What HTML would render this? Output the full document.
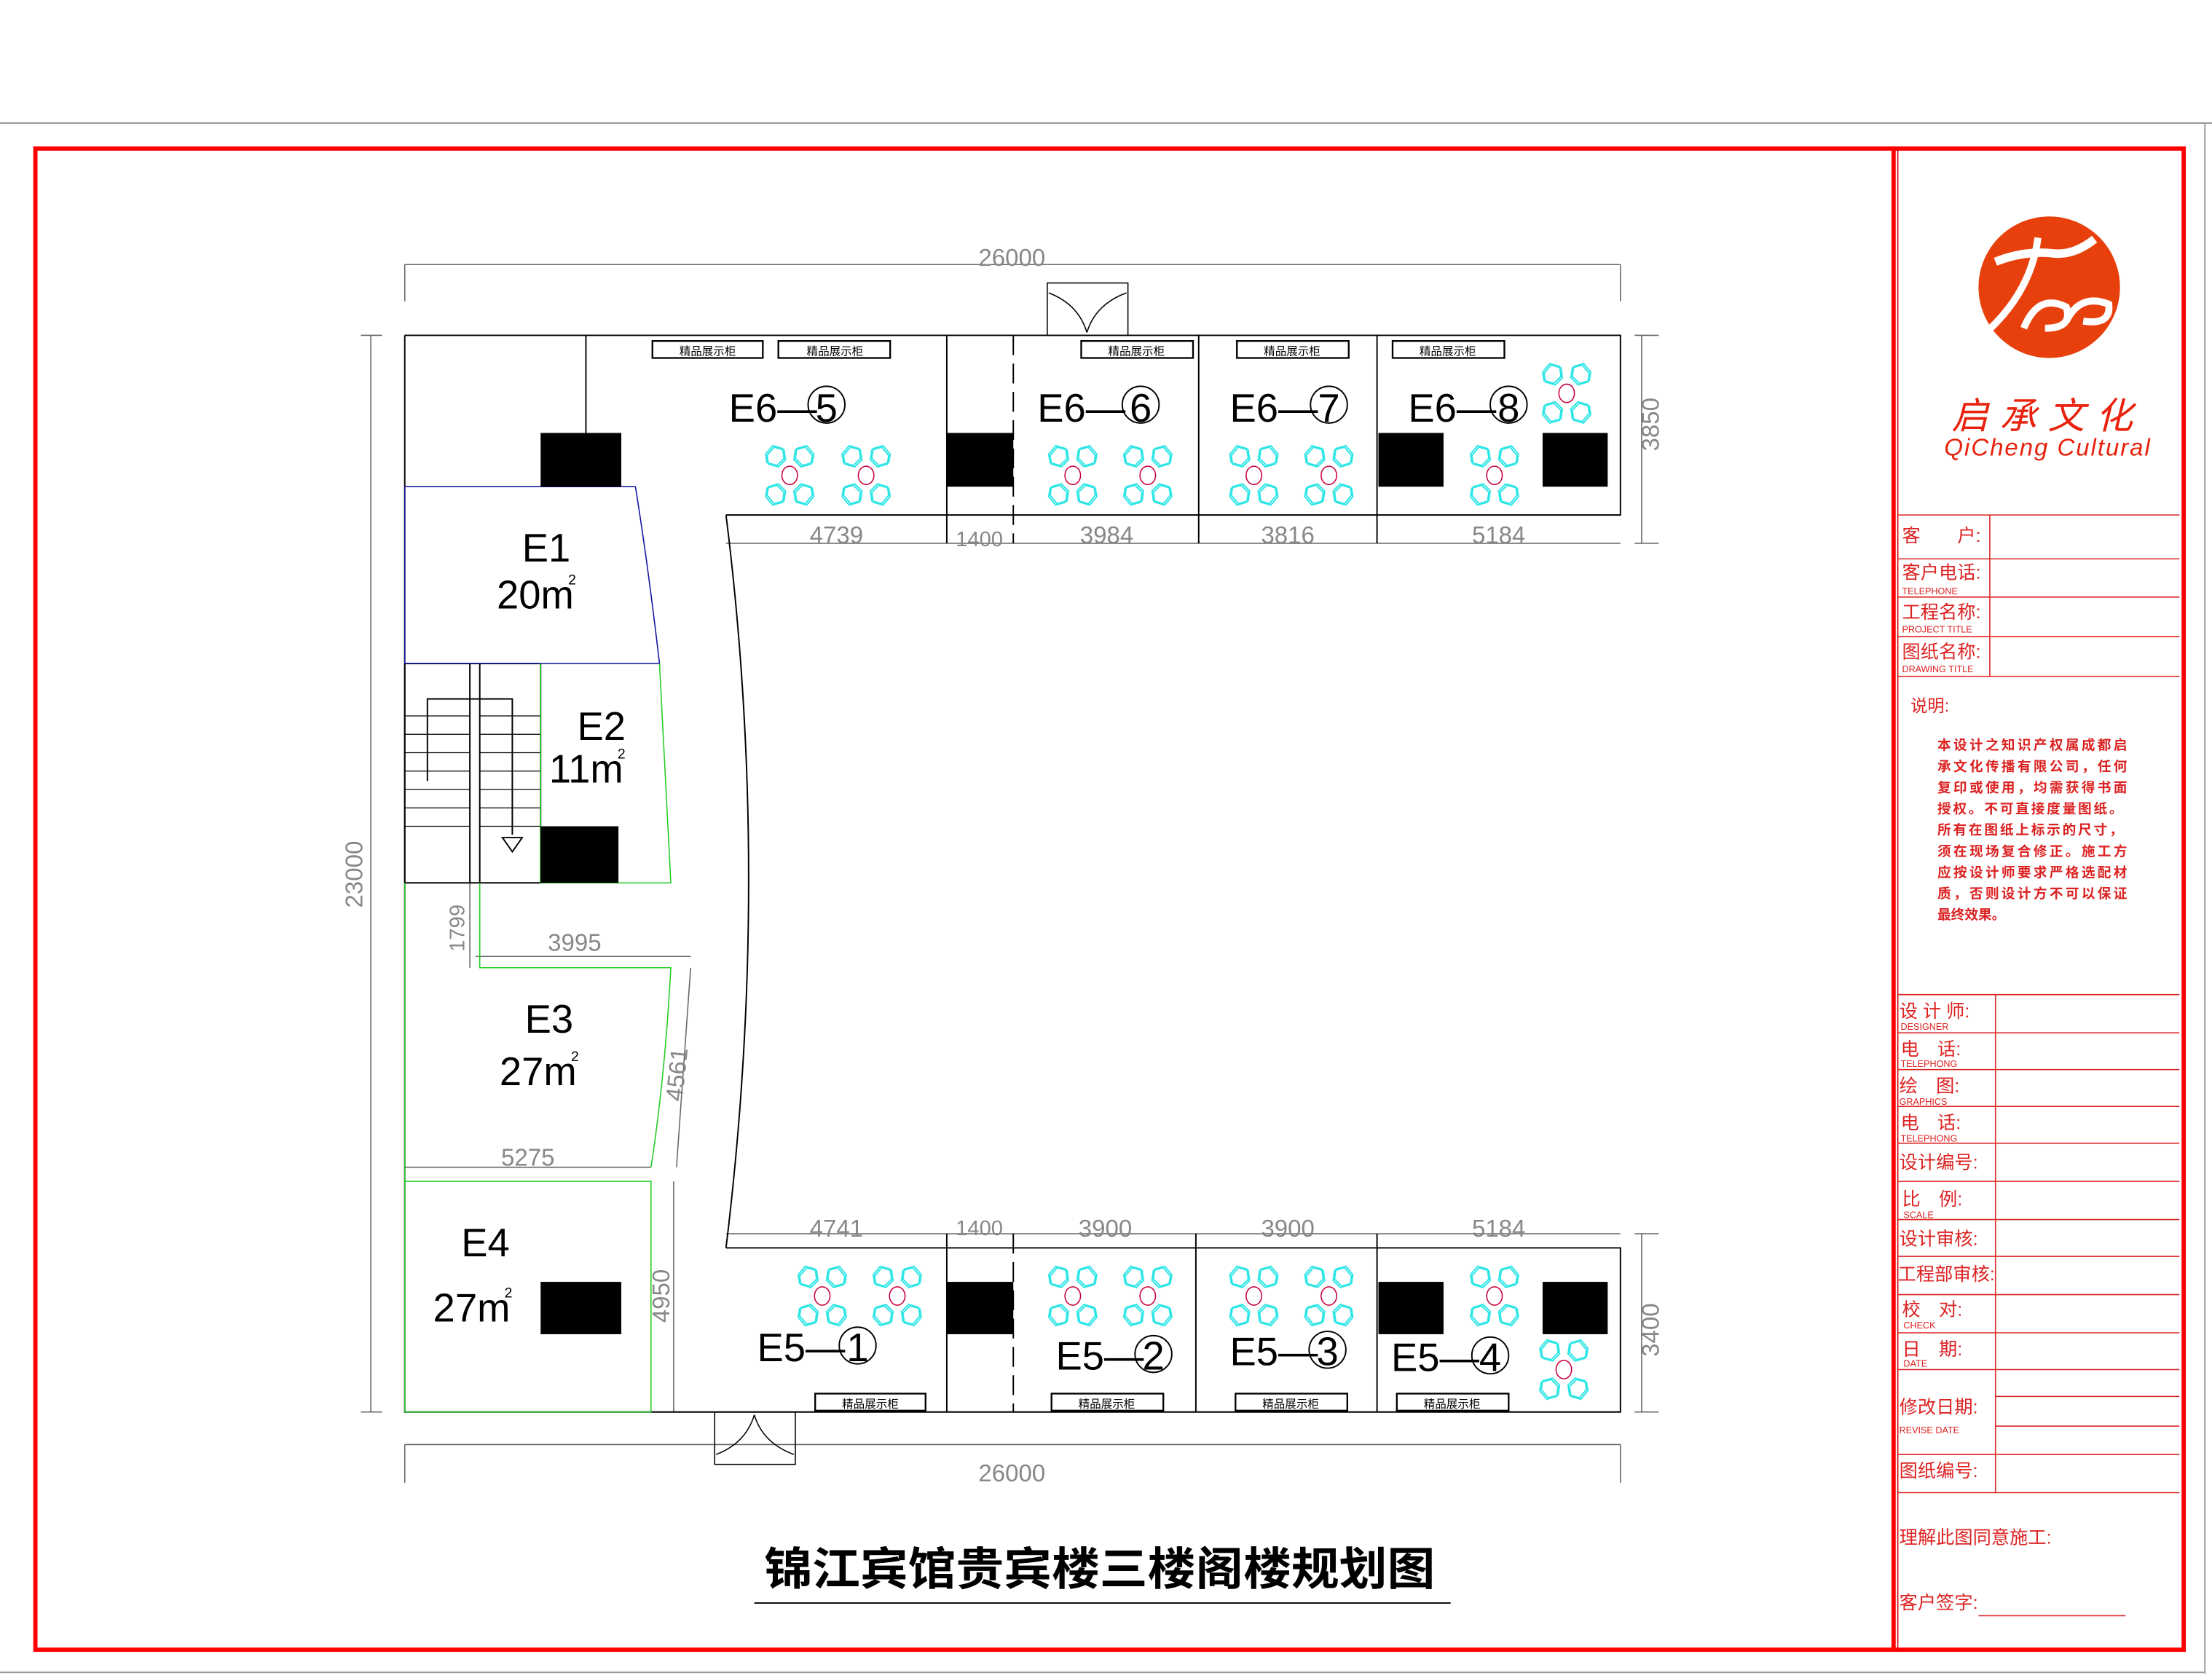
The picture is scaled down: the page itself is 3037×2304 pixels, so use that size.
<!DOCTYPE html>
<html><head><meta charset="utf-8"><style>
html,body{margin:0;padding:0;background:#fff;}
svg{display:block;}
text{font-family:"Liberation Sans","Noto Sans CJK SC",sans-serif;}
</style></head><body>
<svg width="3037" height="2304" viewBox="0 0 1563 1186" preserveAspectRatio="none" xmlns="http://www.w3.org/2000/svg">
<defs>
<g id="ch">
 <g fill="none" stroke="#2ee6e6" stroke-width="1">
  <path d="M-17,-15 l5,-6 l7,2 l1,7 l-5,5 l-7,-2z"/><path d="M-16,-14 l5,-6 l7,2 l1,7 l-5,5 l-7,-2z"/>
  <path d="M17,-15 l-5,-6 l-7,2 l-1,7 l5,5 l7,-2z"/><path d="M16,-14 l-5,-6 l-7,2 l-1,7 l5,5 l7,-2z"/>
  <path d="M-17,15 l5,6 l7,-2 l1,-7 l-5,-5 l-7,2z"/><path d="M-16,14 l5,6 l7,-2 l1,-7 l-5,-5 l-7,2z"/>
  <path d="M17,15 l-5,6 l-7,-2 l-1,-7 l5,-5 l7,2z"/><path d="M16,14 l-5,6 l-7,-2 l-1,-7 l5,-5 l7,2z"/>
 </g>
 <ellipse cx="0" cy="0" rx="5.5" ry="6.5" fill="none" stroke="#c8003c" stroke-width="0.8"/>
</g>
</defs>
<rect width="1563" height="1186" fill="#fff"/>
<line x1="0" y1="87" x2="1563" y2="87" stroke="#999" stroke-width="1"/>
<line x1="1558" y1="87" x2="1558" y2="1183" stroke="#999" stroke-width="1"/>
<line x1="0" y1="1182" x2="1558" y2="1182" stroke="#999" stroke-width="1"/>
<rect x="25" y="105" width="1518" height="1061" fill="none" stroke="#f00" stroke-width="3"/>
<line x1="1338" y1="105" x2="1338" y2="1166" stroke="#f00" stroke-width="3"/>
<line x1="1341" y1="105" x2="1341" y2="1166" stroke="#c00" stroke-width="0.8"/>

<g stroke="#d22" stroke-width="0.8">
 <line x1="1341" y1="364" x2="1540" y2="364"/><line x1="1341" y1="395" x2="1540" y2="395"/>
 <line x1="1341" y1="422" x2="1540" y2="422"/><line x1="1341" y1="450" x2="1540" y2="450"/>
 <line x1="1341" y1="478" x2="1540" y2="478"/><line x1="1406" y1="364" x2="1406" y2="478"/>
 <line x1="1341" y1="703" x2="1540" y2="703"/><line x1="1341" y1="730" x2="1540" y2="730"/>
 <line x1="1341" y1="756" x2="1540" y2="756"/><line x1="1341" y1="782" x2="1540" y2="782"/>
 <line x1="1341" y1="808" x2="1540" y2="808"/><line x1="1341" y1="835" x2="1540" y2="835"/>
 <line x1="1341" y1="862" x2="1540" y2="862"/><line x1="1341" y1="888" x2="1540" y2="888"/>
 <line x1="1341" y1="915" x2="1540" y2="915"/><line x1="1341" y1="942" x2="1540" y2="942"/>
 <line x1="1341" y1="968" x2="1540" y2="968"/><line x1="1410" y1="987" x2="1540" y2="987"/>
 <line x1="1410" y1="1008" x2="1540" y2="1008"/><line x1="1341" y1="1028" x2="1540" y2="1028"/>
 <line x1="1341" y1="1055" x2="1540" y2="1055"/><line x1="1410" y1="703" x2="1410" y2="1055"/>
 <line x1="1398" y1="1142" x2="1502" y2="1142"/>
</g>
<g fill="#d22" font-size="13">
 <text x="1344" y="383">客　　户:</text>
 <text x="1344" y="409">客户电话:</text><text x="1344" y="420" font-size="6.5">TELEPHONE</text>
 <text x="1344" y="437">工程名称:</text><text x="1344" y="447" font-size="6.5">PROJECT  TITLE</text>
 <text x="1344" y="465">图纸名称:</text><text x="1344" y="475" font-size="6.5">DRAWING  TITLE</text>
 <text x="1350" y="503" font-size="12">说明:</text>
 <g font-size="9.6" font-weight="bold" font-family="'Noto Serif CJK SC','Liberation Serif',serif">
  <text x="1369" y="530" textLength="134">本设计之知识产权属成都启</text>
  <text x="1369" y="545" textLength="134">承文化传播有限公司，任何</text>
  <text x="1369" y="560" textLength="134">复印或使用，均需获得书面</text>
  <text x="1369" y="575" textLength="131">授权。不可直接度量图纸。</text>
  <text x="1369" y="590" textLength="131">所有在图纸上标示的尺寸，</text>
  <text x="1369" y="605" textLength="134">须在现场复合修正。施工方</text>
  <text x="1369" y="620" textLength="134">应按设计师要求严格选配材</text>
  <text x="1369" y="635" textLength="134">质，否则设计方不可以保证</text>
  <text x="1369" y="650">最终效果。</text>
 </g>
 <text x="1342" y="719">设 计 师:</text><text x="1343" y="728" font-size="6.5">DESIGNER</text>
 <text x="1343" y="746">电　话:</text><text x="1343" y="754" font-size="6.5">TELEPHONG</text>
 <text x="1342" y="772">绘　图:</text><text x="1342" y="781" font-size="6.5">GRAPHICS</text>
 <text x="1343" y="798">电　话:</text><text x="1343" y="807" font-size="6.5">TELEPHONG</text>
 <text x="1342" y="826">设计编号:</text>
 <text x="1344" y="852">比　例:</text><text x="1345" y="861" font-size="6.5">SCALE</text>
 <text x="1342" y="880">设计审核:</text>
 <text x="1341" y="905">工程部审核:</text>
 <text x="1344" y="930">校　对:</text><text x="1345" y="939" font-size="6.5">CHECK</text>
 <text x="1344" y="958">日　期:</text><text x="1345" y="966" font-size="6.5">DATE</text>
 <text x="1342" y="999">修改日期:</text><text x="1342" y="1013" font-size="6.5">REVISE  DATE</text>
 <text x="1342" y="1044">图纸编号:</text>
 <text x="1342" y="1091">理解此图同意施工:</text>
 <text x="1342" y="1137">客户签字:</text>
</g>
<g>
 <circle cx="1448" cy="203" r="50" fill="#e8400c"/>
 <path d="M1410,185 q20,-8 40,-6 q15,2 30,-10" stroke="#fff" stroke-width="6" fill="none"/>
 <path d="M1440,168 q-5,40 -40,70" stroke="#fff" stroke-width="5" fill="none"/>
 <path d="M1430,232 q10,-25 30,-15 q5,15 -15,15" stroke="#fff" stroke-width="5" fill="none"/>
 <path d="M1460,227 q10,-20 30,-12 q2,15 -18,12" stroke="#fff" stroke-width="5" fill="none"/>
 <text x="1447" y="303" text-anchor="middle" fill="#e8220c" font-size="26" font-style="italic" font-family="'Noto Serif CJK SC',serif" letter-spacing="8">启承文化</text>
 <text x="1447" y="322" text-anchor="middle" fill="#e8220c" font-size="17" font-style="italic" font-family="'Liberation Serif',serif" letter-spacing="1">QiCheng Cultural</text>
</g>

<g stroke="#666" stroke-width="0.8" fill="none">
 <line x1="286" y1="187" x2="1145" y2="187"/><line x1="286" y1="187" x2="286" y2="213"/><line x1="1145" y1="187" x2="1145" y2="213"/>
 <line x1="286" y1="1021" x2="1145" y2="1021"/><line x1="286" y1="1021" x2="286" y2="1048"/><line x1="1145" y1="1021" x2="1145" y2="1048"/>
 <line x1="262" y1="237" x2="262" y2="998"/><line x1="255" y1="237" x2="270" y2="237"/><line x1="255" y1="998" x2="270" y2="998"/>
 <line x1="1160" y1="237" x2="1160" y2="384"/><line x1="1155" y1="237" x2="1172" y2="237"/><line x1="1155" y1="384" x2="1172" y2="384"/>
 <line x1="1160" y1="872" x2="1160" y2="998"/><line x1="1155" y1="872" x2="1172" y2="872"/><line x1="1155" y1="998" x2="1172" y2="998"/>
 <line x1="513" y1="384" x2="1145" y2="384"/>
 <line x1="513" y1="872" x2="1145" y2="872"/>
 <line x1="332" y1="624" x2="332" y2="684"/>
 <line x1="336" y1="676" x2="488" y2="676"/>
 <line x1="488" y1="684" x2="478" y2="825"/>
 <line x1="286" y1="825" x2="460" y2="825"/>
 <line x1="476" y1="835" x2="476" y2="998"/>
</g>
<g fill="#888" font-size="17" font-family="'Liberation Sans',sans-serif">
 <text x="715" y="188" text-anchor="middle">26000</text>
 <text x="715" y="1047" text-anchor="middle">26000</text>
 <text x="591" y="384" text-anchor="middle">4739</text>
 <text x="692" y="386" text-anchor="middle" font-size="15">1400</text>
 <text x="782" y="384" text-anchor="middle">3984</text>
 <text x="910" y="384" text-anchor="middle">3816</text>
 <text x="1059" y="384" text-anchor="middle">5184</text>
 <text x="591" y="874" text-anchor="middle">4741</text>
 <text x="692" y="873" text-anchor="middle" font-size="15">1400</text>
 <text x="781" y="874" text-anchor="middle">3900</text>
 <text x="910" y="874" text-anchor="middle">3900</text>
 <text x="1059" y="874" text-anchor="middle">5184</text>
 <text x="406" y="672" text-anchor="middle">3995</text>
 <text x="373" y="824" text-anchor="middle">5275</text>
 <text transform="translate(256,618) rotate(-90)" text-anchor="middle">23000</text>
 <text transform="translate(1172,300) rotate(-90)" text-anchor="middle">3850</text>
 <text transform="translate(1172,940) rotate(-90)" text-anchor="middle">3400</text>
 <text transform="translate(328,656) rotate(-90)" text-anchor="middle" font-size="15">1799</text>
 <text transform="translate(484,760) rotate(-84)" text-anchor="middle">4561</text>
 <text transform="translate(473,916) rotate(-90)" text-anchor="middle">4950</text>
</g>

<g stroke="#000" stroke-width="1" fill="none">
 <path d="M286,237 H1145 V364 H513"/>
 <path d="M286,237 V998 H1145 V882 H513"/>
 <path d="M513,364 Q545,620 513,882"/>
 <line x1="414" y1="237" x2="414" y2="306"/>
 <line x1="669" y1="237" x2="669" y2="384"/>
 <line x1="716" y1="237" x2="716" y2="384" stroke-dasharray="14,6"/>
 <line x1="847" y1="237" x2="847" y2="384"/>
 <line x1="973" y1="237" x2="973" y2="384"/>
 <line x1="669" y1="872" x2="669" y2="998"/>
 <line x1="716" y1="872" x2="716" y2="998" stroke-dasharray="14,6"/>
 <line x1="845" y1="872" x2="845" y2="998"/>
 <line x1="973" y1="872" x2="973" y2="998"/>
 <rect x="286" y="469" width="96" height="155"/>
 <line x1="332" y1="469" x2="332" y2="624"/><line x1="339" y1="469" x2="339" y2="624"/>
 <path d="M302,552 V494 H362 V590"/>
 <path d="M355,592 L369,592 L362,602 Z"/>
</g>
<g stroke="#000" stroke-width="0.6">
 <line x1="286" y1="506" x2="332" y2="506"/><line x1="339" y1="506" x2="382" y2="506"/>
 <line x1="286" y1="519" x2="332" y2="519"/><line x1="339" y1="519" x2="382" y2="519"/>
 <line x1="286" y1="532" x2="332" y2="532"/><line x1="339" y1="532" x2="382" y2="532"/>
 <line x1="286" y1="545" x2="332" y2="545"/><line x1="339" y1="545" x2="382" y2="545"/>
 <line x1="286" y1="558" x2="332" y2="558"/><line x1="339" y1="558" x2="382" y2="558"/>
 <line x1="286" y1="571" x2="332" y2="571"/><line x1="339" y1="571" x2="382" y2="571"/>
 <line x1="286" y1="584" x2="332" y2="584"/><line x1="339" y1="584" x2="382" y2="584"/>
</g>
<path d="M286,344 H449 Q458,400 466,469 H286 Z" fill="none" stroke="#1010a0" stroke-width="0.8"/>
<g stroke="#22cc22" stroke-width="0.8" fill="none">
 <path d="M382,469 V624 H474 L466,469"/>
 <path d="M286,624 V998"/>
 <path d="M339,624 V684 H474 Q470,760 460,825"/>
 <path d="M286,835 H460 V998 H286"/>
</g>
<g fill="#000">
 <rect x="382" y="306" width="57" height="38"/>
 <rect x="669" y="306" width="47" height="38"/>
 <rect x="974" y="306" width="46" height="38"/>
 <rect x="1090" y="306" width="46" height="38"/>
 <rect x="382" y="584" width="55" height="40"/>
 <rect x="382" y="906" width="57" height="37"/>
 <rect x="669" y="906" width="47" height="37"/>
 <rect x="974" y="906" width="46" height="37"/>
 <rect x="1090" y="906" width="46" height="37"/>
</g>
<g stroke="#000" stroke-width="0.8" fill="none">
 <rect x="740" y="200" width="57" height="37"/>
 <path d="M741,207 Q762,215 768,235 M796,207 Q774,215 768,235"/>
 <rect x="505" y="998" width="57" height="37"/>
 <path d="M506,1028 Q527,1020 533,1000 M561,1028 Q539,1020 533,1000"/>
</g>
<g fill="none" stroke="#000" stroke-width="1.2">
 <rect x="461" y="241" width="78" height="12"/><rect x="550" y="241" width="79" height="12"/>
 <rect x="764" y="241" width="79" height="12"/><rect x="874" y="241" width="79" height="12"/>
 <rect x="984" y="241" width="79" height="12"/>
 <rect x="576" y="985" width="78" height="12"/><rect x="743" y="985" width="79" height="12"/>
 <rect x="873" y="985" width="79" height="12"/><rect x="987" y="985" width="79" height="12"/>
</g>
<g font-size="8" text-anchor="middle" fill="#000">
 <text x="500" y="251">精品展示柜</text><text x="590" y="251">精品展示柜</text>
 <text x="803" y="251">精品展示柜</text><text x="913" y="251">精品展示柜</text>
 <text x="1023" y="251">精品展示柜</text>
 <text x="615" y="995">精品展示柜</text><text x="782" y="995">精品展示柜</text>
 <text x="912" y="995">精品展示柜</text><text x="1026" y="995">精品展示柜</text>
</g>
<use href="#ch" x="558" y="336"/><use href="#ch" x="612" y="336"/>
<use href="#ch" x="758" y="336"/><use href="#ch" x="811" y="336"/>
<use href="#ch" x="886" y="336"/><use href="#ch" x="939" y="336"/>
<use href="#ch" x="1056" y="336"/><use href="#ch" x="1107" y="278"/>
<use href="#ch" x="581" y="916"/><use href="#ch" x="634" y="916"/>
<use href="#ch" x="758" y="916"/><use href="#ch" x="811" y="916"/>
<use href="#ch" x="886" y="916"/><use href="#ch" x="939" y="916"/>
<use href="#ch" x="1056" y="916"/><use href="#ch" x="1105" y="968"/>
<g font-size="28" fill="#000">
 <text x="515" y="298">E6—</text><circle cx="584" cy="286" r="13" fill="none" stroke="#000"/><text x="584" y="298" text-anchor="middle">5</text>
 <text x="733" y="298">E6—</text><circle cx="806" cy="286" r="13" fill="none" stroke="#000"/><text x="806" y="298" text-anchor="middle">6</text>
 <text x="869" y="298">E6—</text><circle cx="939" cy="286" r="13" fill="none" stroke="#000"/><text x="939" y="298" text-anchor="middle">7</text>
 <text x="995" y="298">E6—</text><circle cx="1066" cy="286" r="13" fill="none" stroke="#000"/><text x="1066" y="298" text-anchor="middle">8</text>
 <text x="535" y="962">E5—</text><circle cx="606" cy="951" r="13" fill="none" stroke="#000"/><text x="606" y="962" text-anchor="middle">1</text>
 <text x="746" y="968">E5—</text><circle cx="815" cy="957" r="13" fill="none" stroke="#000"/><text x="815" y="968" text-anchor="middle">2</text>
 <text x="869" y="965">E5—</text><circle cx="938" cy="954" r="13" fill="none" stroke="#000"/><text x="938" y="965" text-anchor="middle">3</text>
 <text x="983" y="969">E5—</text><circle cx="1053" cy="958" r="13" fill="none" stroke="#000"/><text x="1053" y="969" text-anchor="middle">4</text>
 <text x="386" y="397" text-anchor="middle">E1</text><text x="351" y="430">20m<tspan dx="-4" dy="-17" font-size="10">2</tspan></text>
 <text x="425" y="523" text-anchor="middle">E2</text><text x="388" y="553">11m<tspan dx="-4" dy="-17" font-size="10">2</tspan></text>
 <text x="388" y="730" text-anchor="middle">E3</text><text x="353" y="767">27m<tspan dx="-4" dy="-17" font-size="10">2</tspan></text>
 <text x="343" y="888" text-anchor="middle">E4</text><text x="306" y="934">27m<tspan dx="-4" dy="-17" font-size="10">2</tspan></text>
</g>
<text x="540" y="1120" font-size="32" font-weight="bold" font-family="'Noto Sans CJK SC','WenQuanYi Zen Hei',sans-serif" textLength="474" lengthAdjust="spacingAndGlyphs">锦江宾馆贵宾楼三楼阁楼规划图</text>
<line x1="533" y1="1133" x2="1025" y2="1133" stroke="#000" stroke-width="1"/>
</svg>
</body></html>
